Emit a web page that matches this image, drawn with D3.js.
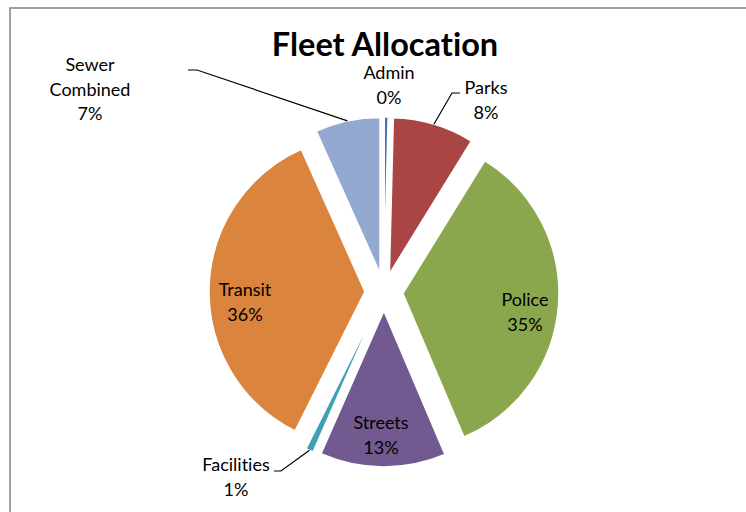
<!DOCTYPE html>
<html>
<head>
<meta charset="utf-8">
<script src="https://cdn.jsdelivr.net/npm/d3@7"></script>
<style>
  html, body { margin: 0; padding: 0; background: #fff; }
  svg { display: block; }
  text { font-family: Lato, "Liberation Sans", sans-serif; fill: #000;
         font-variant-ligatures: none; font-feature-settings: "liga" 0, "clig" 0; }
</style>
</head>
<body>
<svg id="chart" width="746" height="512"></svg>
<script>
// Fleet share by department (percent of vehicles)
const departments = ["Admin", "Parks", "Police", "Streets", "Facilities", "Transit", "Sewer Combined"];
const shares = [0.4, 8.4, 34.8, 13.0, 0.8, 35.9, 6.7];
const sliceColors = ["#4675B1", "#A94645", "#8AA74E", "#72598F", "#3FA0B6", "#DB843D", "#93A9CF"];

// Text anchors for the data labels (centre x, first baseline y)
const labelAnchors = {
  "Admin": [389, 79],
  "Parks": [486, 94],
  "Police": [525, 306],
  "Streets": [381, 429],
  "Facilities": [236, 471],
  "Transit": [245, 296],
  "Sewer Combined": [90, 71]
};
// Leader lines: horizontal stub start/end beside the label
const leaders = {
  "Sewer Combined": [188, 197, 70],
  "Parks": [460, 452, 93],
  "Facilities": [274, 281, 471]
};

const svg = d3.select("#chart");
const cx = 384, cy = 292, radius = 156, explode = 19, lineGap = 24.5;

// chart frame
svg.append("rect")
  .attr("x", 10).attr("y", 8).attr("width", 900).attr("height", 700)
  .attr("fill", "none").attr("stroke", "#8a8a8a").attr("stroke-width", 1.6);

svg.append("text")
  .attr("x", 385).attr("y", 56)
  .attr("text-anchor", "middle")
  .attr("font-size", 32.5).attr("font-weight", "bold")
  .text("Fleet Allocation");

const total = d3.sum(shares);
const pie = d3.pie().sort(null).value(d => d.value);
const arcs = pie(departments.map((name, i) => ({ name, value: shares[i], color: sliceColors[i] })));
const arc = d3.arc().innerRadius(0).outerRadius(radius);

const mid = d => (d.startAngle + d.endAngle) / 2;
const offset = (d, r) => [Math.sin(mid(d)) * r, -Math.cos(mid(d)) * r];

const g = svg.append("g").attr("transform", `translate(${cx},${cy})`);

g.selectAll("path.slice")
  .data(arcs)
  .join("path")
  .attr("class", "slice")
  .attr("transform", d => { const [dx, dy] = offset(d, explode); return `translate(${dx},${dy})`; })
  .attr("d", arc)
  .attr("fill", d => d.data.color)
  .attr("stroke", "#fff")
  .attr("stroke-width", 1.5);

// leader lines from the outer edge of a slice to its label
arcs.forEach(d => {
  const L = leaders[d.data.name];
  if (!L) return;
  const [px, py] = offset(d, radius + explode);
  svg.append("polyline")
    .attr("points", `${L[0]},${L[2]} ${L[1]},${L[2]} ${cx + px},${cy + py}`)
    .attr("fill", "none").attr("stroke", "#000").attr("stroke-width", 1.2);
});

// data labels: category name and rounded percent
arcs.forEach(d => {
  const [x, y] = labelAnchors[d.data.name];
  const lines = d.data.name.split(" ").concat([Math.round(d.data.value / total * 100) + "%"]);
  const t = svg.append("text").attr("text-anchor", "middle").attr("font-size", 18);
  lines.forEach((s, i) => t.append("tspan").attr("x", x).attr("y", y + i * lineGap).text(s));
});
</script>
</body>
</html>
